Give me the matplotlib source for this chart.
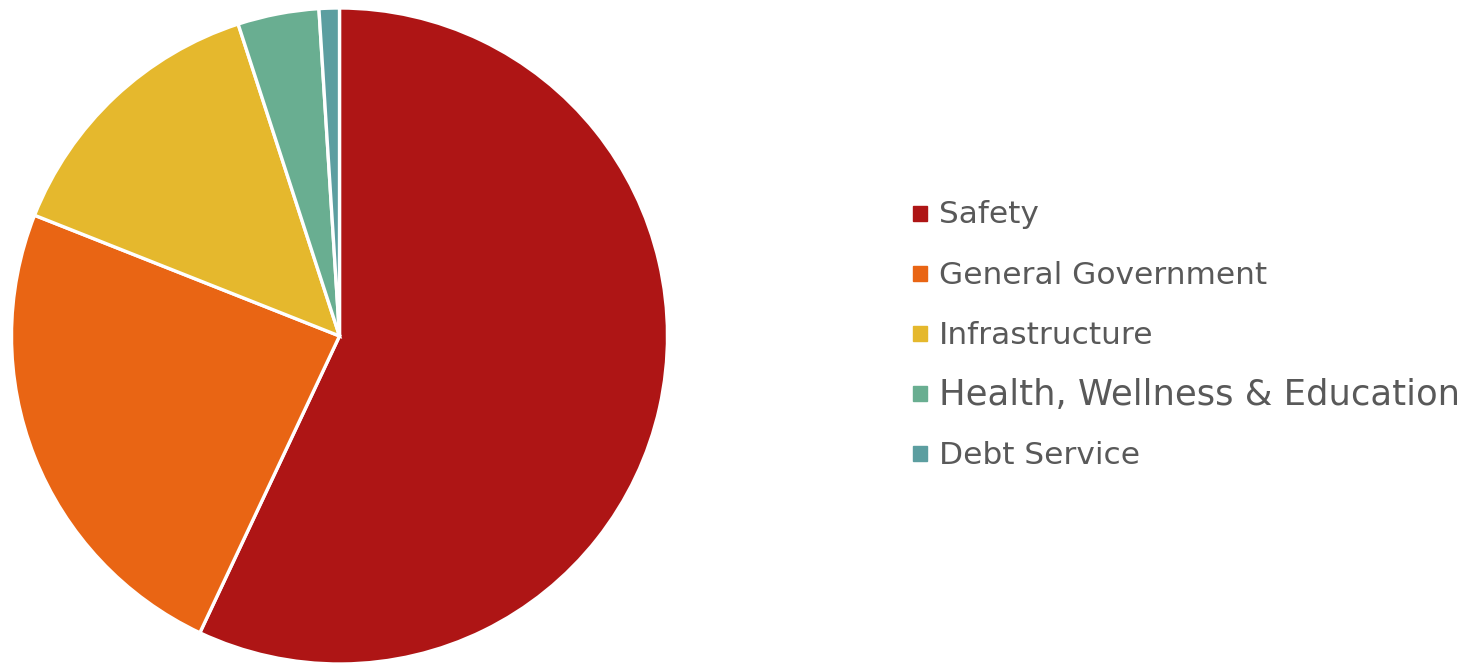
import matplotlib.pyplot as plt
from matplotlib.patches import Rectangle

categories = ["Safety", "General Government", "Infrastructure",
              "Health, Wellness & Education", "Debt Service"]
shares = [57, 24, 14, 4, 1]
colors = ["#AE1515", "#E96514", "#E5B82D", "#69AE91", "#5C9EA0"]
label_sizes = [22.5, 22.5, 22.5, 25.5, 22.5]

W, H = 1474, 664
fig = plt.figure(figsize=(W / 100, H / 100), dpi=100)

# pie centred at (339.5, 336) px, radius 328 px
cx, cy, r = 339.5, 336, 328
ax = fig.add_axes([(cx - r) / W, (H - cy - r) / H, 2 * r / W, 2 * r / H])
ax.pie(shares, colors=colors, startangle=90, counterclock=False, radius=1,
       wedgeprops={"edgecolor": "white", "linewidth": 2.4})
ax.set_xlim(-1, 1)
ax.set_ylim(-1, 1)
ax.set_aspect("auto")
ax.axis("off")

# legend drawn by hand: square swatch + label per row
row_top = [206, 266, 326, 386, 446]
baselines = [223, 284, 344, 405, 464]
for name, col, top, base, fs in zip(categories, colors, row_top, baselines, label_sizes):
    fig.patches.append(Rectangle((913 / W, (H - top - 15) / H), 14 / W, 15 / H,
                                 transform=fig.transFigure, color=col))
    fig.text(939 / W, (H - base) / H, name, fontsize=fs, color="#595959",
             family="DejaVu Sans", va="baseline", ha="left")

fig.savefig("out.png", dpi=100)
